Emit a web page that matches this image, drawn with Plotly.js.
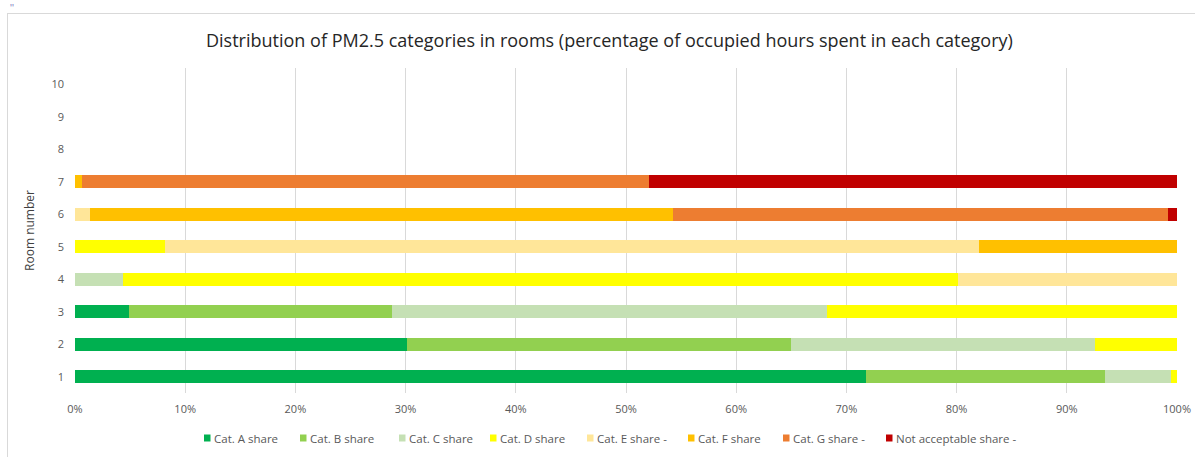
<!DOCTYPE html>
<html><head><meta charset="utf-8">
<script src="https://cdn.plot.ly/plotly-3.0.1.min.js"></script>
<style>
html,body{margin:0;padding:0;background:#fff;}
#frame{position:absolute;left:7px;top:13px;width:1200px;height:460px;border:1px solid #d9d9d9;box-sizing:border-box;}
#mark{position:absolute;left:10px;top:3px;font:10px 'Liberation Sans',sans-serif;color:#8080c0;}
#chart{position:absolute;left:0;top:0;width:1195px;height:457px;}
</style></head>
<body>
<div id="frame"></div>
<div id="mark">''</div>
<div id="chart"></div>
<script>
const rooms = ["1","2","3","4","5","6","7","8","9","10"];
const seriesNames = ["Cat. A share","Cat. B share","Cat. C share","Cat. D share","Cat. E share -","Cat. F share","Cat. G share -","Not acceptable share -"];
const catA  = [71.8, 30.1, 4.9, 0,    0,    0,    0,    0, 0, 0];
const catB  = [21.7, 34.9, 23.9, 0,   0,    0,    0,    0, 0, 0];
const catC  = [6.0,  27.6, 39.4, 4.4, 0,    0,    0,    0, 0, 0];
const catD  = [0.5,  7.4,  31.8, 75.7, 8.2, 0,    0,    0, 0, 0];
const catE  = [0,    0,    0,    19.9, 73.8, 1.4, 0,    0, 0, 0];
const catF  = [0,    0,    0,    0,    18.0, 52.9, 0.6, 0, 0, 0];
const catG  = [0,    0,    0,    0,    0,    44.9, 51.5, 0, 0, 0];
const notAcc= [0,    0,    0,    0,    0,    0.8,  47.9, 0, 0, 0];
const colors = ["#00B050","#92D050","#C5E0B4","#FFFF00","#FFE699","#FFC000","#ED7D31","#C00000"];
const allSeries = [catA, catB, catC, catD, catE, catF, catG, notAcc];

const W = 1195, H = 457;
const M = {l: 75, r: 18, t: 68, b: 64};
const plotW = W - M.l - M.r, plotH = H - M.t - M.b;

const traces = allSeries.map((vals, i) => ({
  type: "bar",
  orientation: "h",
  name: seriesNames[i],
  y: rooms,
  x: vals.map(v => v / 100),
  marker: {color: colors[i], line: {width: 0}},
  hoverinfo: "x+y+name"
}));

// custom legend (Excel-style compact legend)
const legendLeftPx = [204, 300, 399, 490, 587, 688, 783, 886];
const legendYPx = 438;
const ly = -(legendYPx - (H - M.b)) / plotH;
const annotations = [], shapes = [];
seriesNames.forEach((name, i) => {
  const px = (legendLeftPx[i] - M.l) / plotW;
  shapes.push({type: "rect", xref: "paper", yref: "paper",
    xsizemode: "pixel", ysizemode: "pixel", xanchor: px, yanchor: ly,
    x0: 0, x1: 6.5, y0: -3.5, y1: 3.5,
    fillcolor: colors[i], line: {width: 0}});
  annotations.push({xref: "paper", yref: "paper", x: (legendLeftPx[i] + 8 - M.l) / plotW, y: ly,
    xanchor: "left", yanchor: "middle", showarrow: false, text: name,
    font: {size: 11.5, color: "#595959"}});
});

const layout = {
  width: W, height: H,
  paper_bgcolor: "rgba(0,0,0,0)",
  plot_bgcolor: "rgba(0,0,0,0)",
  barmode: "stack",
  bargap: 0.61,
  margin: M,
  showlegend: false,
  font: {family: "Open Sans, Liberation Sans, sans-serif", color: "#595959", size: 11},
  title: {text: "Distribution of PM2.5 categories in rooms (percentage of occupied hours spent in each category)",
          font: {size: 18, color: "#262626", family: "Open Sans, sans-serif"},
          x: 0.51, xanchor: "center", y: 0.912, yanchor: "middle"},
  xaxis: {
    range: [0, 1], tickformat: ".0%", dtick: 0.1, tick0: 0,
    showgrid: true, gridcolor: "#d9d9d9", gridwidth: 1,
    zeroline: false, showline: false, ticks: "",
    ticklabelstandoff: 8,
    tickfont: {size: 11, color: "#595959"}, fixedrange: true
  },
  yaxis: {
    type: "category", categoryorder: "array", categoryarray: rooms,
    showgrid: false, zeroline: false, showline: false, ticks: "",
    ticklabelstandoff: 10,
    tickfont: {size: 11, color: "#595959"},
    title: {text: "Room number", font: {size: 12, color: "#404040"}, standoff: 14}
  },
  annotations: annotations,
  shapes: shapes
};

Plotly.newPlot("chart", traces, layout, {displayModeBar: false, staticPlot: true});
</script>
</body></html>
